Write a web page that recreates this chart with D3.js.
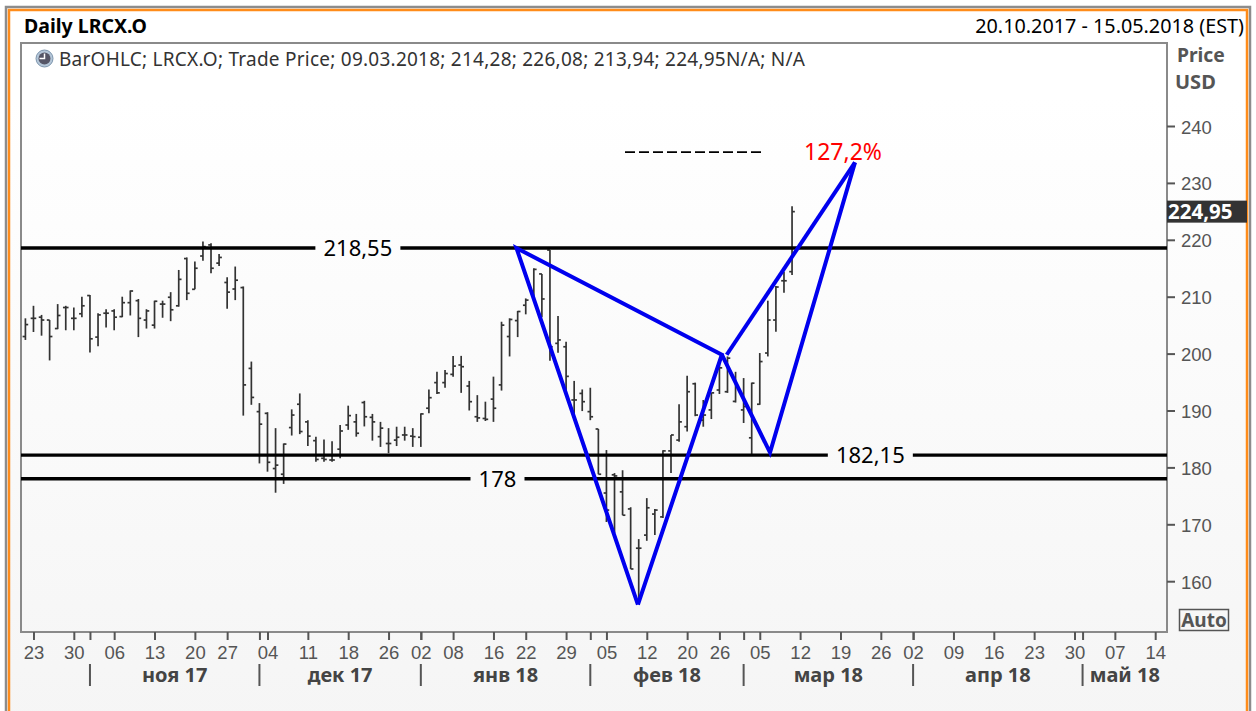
<!DOCTYPE html>
<html>
<head>
<meta charset="utf-8">
<style>
html,body{margin:0;padding:0;background:#fff;overflow:hidden}
svg{display:block;font-family:"Noto Sans",Tahoma,sans-serif}
.tick text{fill:#555;font-size:18.5px}
.tick line{stroke:#555;stroke-width:2}
.domain{display:none}
.bar{stroke:#333;stroke-width:1.7;fill:none}
.level{stroke:#000;stroke-width:3.4}
.pattern{stroke:#0000ee;stroke-width:4;fill:none;stroke-linejoin:miter}
</style>
</head>
<body>
<svg id="chart" width="1256" height="711"></svg>
<script src="https://cdn.jsdelivr.net/npm/d3@7"></script>
<script>
// trading days, bars run from 20.10.2017 to 09.03.2018
var holidays=["2017-11-23","2017-12-25","2018-01-01","2018-01-15","2018-02-19","2018-03-30"];

var opens=[203,206.2,206.4,205.9,204.4,208.1,206.2,207,210.2,202.9,207.1,207.5,206.5,208.95,209.3,205.9,205,208.7,209.9,208.4,
216.7,211.3,217.15,219.1,215.9,212.5,211.35,211.6,197.4,189.8,189.5,179.8,178.8,187,191.1,188,184.7,181.6,181.3,183.2,
187.45,188,191.4,188.8,185.4,184.2,184.8,185.7,185.5,185.3,190.4,194.9,194.9,196.35,198,194.3,188.9,188.6,192,194.5,
203,205.8,208.5,210.6,214,218.2,201.8,201.2,191.85,193,189.8,186.75,175.5,178.7,175.7,172.7,165.8,168.1,171.8,171.3,
182.9,184.8,187.15,194.7,188.3,190.1,193.6,193.3,191.6,190.1,185.2,191.1,200.1,205.9,212.8,214.4];
var highs=[206.2,208.4,206.8,205.9,208.7,208.4,208.1,210,210.3,207.1,207.8,207.8,210,211.1,209.6,207.8,209.3,209.3,210.8,214.7,
216.9,216.2,219.7,219.4,217.5,213.4,215.3,211.8,198.6,191.3,189.7,186.9,184.2,190.2,193,188.3,185.4,184.9,184.6,187.45,
190.85,189.4,191.7,189.4,188,186.9,187.15,187.15,186.9,189.5,193.7,196.8,197.1,199.6,199.6,195.2,192.7,191.55,195.95,205.6,
206.2,207.5,209.7,215,214,218.2,206.6,202.1,195.2,193.7,194,186.75,183.05,179,179.5,173,167.4,174.6,172.7,183,
185.7,191.1,196.1,194.9,191.85,193.1,198.35,199.5,196.8,195.7,194.9,200.1,209.3,211.9,214.4,225.9];
var lows=[202.4,203.8,203.15,198.8,204.3,204.1,204.1,206.4,200.2,201.3,204.6,204.1,206.4,206.7,202.9,204.4,204.4,206.3,205.7,208.25,
209.4,211.3,216.3,214.1,215.4,207.9,209.4,189.1,191,180.7,179.25,175.55,177.1,185.6,185.85,183.75,181,181,181,181.6,
186.6,185.4,187.2,184.7,183.6,182.5,183.75,184.7,183.6,183.6,189.5,192.9,194,195.95,193.1,190,188,188.15,188,193.5,
199.5,202.9,206.9,209.4,206.4,198.75,200.15,193.1,188.3,189.9,188.3,178.8,170.4,168.5,171.6,162.15,156.2,167.1,168.1,171.1,
179,184.5,186.3,189,187.15,188.5,192.9,193.1,191.4,187.8,182.35,191,199.5,203.85,210.7,213.8];
var closes=[205.1,206.2,205.9,203,206.7,208.1,206.2,208.4,202.6,206.8,207.1,206.4,208.95,211,206.2,207.5,209.2,208.7,207.7,213.05,
210.6,215,218.8,215,216.9,210.8,212.9,194.5,192.3,187.6,180.9,180.4,184.1,189.2,186.3,185.5,181.4,181.4,181.3,186.4,
189.1,186,188.9,188,186.9,184.2,185.3,185.7,185.4,189.4,192.25,193.1,196.5,197.8,197.7,191.55,188.7,188.45,190.4,205,
206,207.4,209.4,214.8,209.6,201.2,202.4,196,191.85,191.55,188.9,178.8,172.5,178.5,171.6,162.15,165.8,172.9,172.5,182.9,
185.7,188,193.3,189.2,189.2,193.1,197.5,199.2,194.2,190.7,194.8,198.6,205.9,211.7,212.8,224.95];

var priceTicks=[160,170,180,190,200,210,220,230,240];
var weekTicks=["2017-10-23","2017-10-30","2017-11-06","2017-11-13","2017-11-20","2017-11-27","2017-12-04","2017-12-11","2017-12-18","2017-12-26",
"2018-01-02","2018-01-08","2018-01-16","2018-01-22","2018-01-29","2018-02-05","2018-02-12","2018-02-20","2018-02-26","2018-03-05",
"2018-03-12","2018-03-19","2018-03-26","2018-04-02","2018-04-09","2018-04-16","2018-04-23","2018-04-30","2018-05-07","2018-05-14"];
var monthStarts=["2017-11-01","2017-12-01","2018-01-02","2018-02-01","2018-03-01","2018-04-02","2018-05-01"];
var monthLabels=["ноя 17","дек 17","янв 18","фев 18","мар 18","апр 18","май 18"];

// horizontal levels, label sits in a gap of the line
var levels=[218.55,182.15,178];
var levelLabels=["218,55","182,15","178"];
var levelLabelDay=[41.2,104.7,58.5];

// XABCD pattern, in trading day index and price
var patternDay=[60.85,75.9,86.3,92.27,102.8];
var patternPrice=[218.55,155.9,199.8,182.6,233.6];
var fibDay=[74.3,91.6];
var fibPrice=235.4;

var lastPrice=224.95;

var fmt=d3.timeFormat("%Y-%m-%d"), dayFmt=d3.timeFormat("%d"), parse=d3.timeParse("%Y-%m-%d");
var days=d3.timeDay.range(new Date(2017,9,20),new Date(2018,4,16)).filter(function(d){
  return d.getDay()!=0 && d.getDay()!=6 && holidays.indexOf(fmt(d))==-1;
}).map(fmt);

var svg=d3.select("#chart"),
 plotLeft=21, plotRight=1167, plotTop=43, plotBottom=632;

var x=d3.scaleLinear().domain([0,140]).range([25.4,1155.2]),
 y=d3.scaleLinear().domain([160,240]).range([581.2,126]);

var defs=svg.append("defs");
var grad=defs.append("linearGradient").attr("id","bg").attr("x1",0).attr("y1",0).attr("x2",0).attr("y2",1);
grad.append("stop").attr("offset",0.12).attr("stop-color","#fff");
grad.append("stop").attr("offset",1).attr("stop-color","#f5f5f5");

//frame
svg.append("rect").attr("x",6).attr("y",7).attr("width",1244).attr("height",720).attr("fill","#fff")
  .attr("stroke","#8c8c8c").attr("stroke-width",2.5);
svg.append("rect").attr("x",9).attr("y",10).attr("width",1238).attr("height",720).attr("fill","url(#bg)")
  .attr("stroke","#ff8c1a").attr("stroke-width",2.5);

//header
svg.append("text").attr("x",24).attr("y",33).attr("font-size",19.5).attr("font-weight","bold").attr("fill","#000").text("Daily LRCX.O");
svg.append("text").attr("x",1244).attr("y",33).attr("font-size",19.8).attr("text-anchor","end").attr("fill","#000").text("20.10.2017 - 15.05.2018 (EST)");

//plot border
svg.append("rect").attr("x",plotLeft).attr("y",plotTop).attr("width",plotRight-plotLeft).attr("height",plotBottom-plotTop)
  .attr("fill","none").attr("stroke","#8a8a8a").attr("stroke-width",2);

//legend
var clock=svg.append("g").attr("transform","translate(44.5,58.5)");
clock.append("circle").attr("r",8.5).attr("fill","#b4c6d8").attr("stroke","#7d95ad").attr("stroke-width",1);
clock.append("circle").attr("r",6).attr("fill","#556");
clock.append("path").attr("d","M0,-5V0H-5").attr("fill","none").attr("stroke","#fff").attr("stroke-width",1.5);
svg.append("text").attr("x",59).attr("y",66).attr("font-size",19).attr("fill","#333")
  .attr("textLength",746).attr("lengthAdjust","spacing")
  .text("BarOHLC; LRCX.O; Trade Price; 09.03.2018; 214,28; 226,08; 213,94; 224,95N/A; N/A");

//price axis
var yAxis=svg.append("g").attr("transform","translate("+plotRight+",0)")
  .call(d3.axisRight(y).tickValues(priceTicks).tickSize(8).tickPadding(6).tickFormat(d3.format("d")));
yAxis.selectAll("text").attr("dy","0.38em");
svg.append("text").attr("x",1177).attr("y",62).attr("font-size",19.3).attr("font-weight","bold").attr("fill","#555").text("Price");
svg.append("text").attr("x",1175).attr("y",89).attr("font-size",20).attr("font-weight","bold").attr("fill","#555").text("USD");

//time axis
function dayIndex(s){ return days.indexOf(s); }
svg.append("g").attr("transform","translate(0,"+plotBottom+")")
  .call(d3.axisBottom(x).tickValues(weekTicks.map(dayIndex)).tickSize(8).tickPadding(6)
    .tickFormat(function(i){ return dayFmt(parse(days[i])); }));
svg.append("g").attr("transform","translate(0,"+plotBottom+")")
  .call(d3.axisBottom(x).tickValues(monthStarts.map(dayIndex)).tickSize(8).tickFormat(""));

var monthX=monthStarts.map(function(s){ return x(dayIndex(s)); });
svg.append("g").selectAll("line").data(monthX).enter().append("line")
  .attr("x1",function(d){return d;}).attr("x2",function(d){return d;})
  .attr("y1",664).attr("y2",686).attr("stroke","#555").attr("stroke-width",2);
svg.append("g").selectAll("text").data(monthLabels).enter().append("text")
  .attr("x",function(d,i){ return ((monthX[i])+(i<6?monthX[i+1]:plotRight))/2; })
  .attr("y",682).attr("text-anchor","middle").attr("font-size",20).attr("font-weight","bold").attr("fill","#444")
  .text(function(d){return d;});

//bars
var bars=svg.append("g").selectAll("g").data(highs).enter().append("g").attr("class","bar");
bars.append("line").attr("x1",function(d,i){return x(i);}).attr("x2",function(d,i){return x(i);})
  .attr("y1",function(d){return y(d);}).attr("y2",function(d,i){return y(lows[i]);});
bars.append("line").attr("x1",function(d,i){return x(i)-2.8;}).attr("x2",function(d,i){return x(i);})
  .attr("y1",function(d,i){return y(opens[i]);}).attr("y2",function(d,i){return y(opens[i]);});
bars.append("line").attr("x1",function(d,i){return x(i);}).attr("x2",function(d,i){return x(i)+2.8;})
  .attr("y1",function(d,i){return y(closes[i]);}).attr("y2",function(d,i){return y(closes[i]);});

//levels, with a gap for the label
var gapWidth=[85,85,54];
levels.forEach(function(v,k){
  var cx=x(levelLabelDay[k]);
  svg.append("line").attr("class","level").attr("x1",plotLeft).attr("x2",cx-gapWidth[k]/2).attr("y1",y(v)).attr("y2",y(v));
  svg.append("line").attr("class","level").attr("x1",cx+gapWidth[k]/2).attr("x2",plotRight).attr("y1",y(v)).attr("y2",y(v));
  svg.append("text").attr("x",cx).attr("y",y(v)+8).attr("text-anchor","middle").attr("font-size",22).attr("fill","#000").text(levelLabels[k]);
});

//pattern
var line=d3.line().x(function(d){return x(d[0]);}).y(function(d){return y(d[1]);});
var pts=patternDay.map(function(d,i){return [d,patternPrice[i]];});
svg.append("path").attr("class","pattern").attr("d",line([pts[1],pts[0],pts[2],pts[1]]));
svg.append("path").attr("class","pattern").attr("d",line([pts[2],pts[3],pts[4]]));
svg.append("path").attr("class","pattern").attr("d",line([[pts[2][0]+0.6,pts[2][1]],pts[4]]));

svg.append("line").attr("x1",x(fibDay[0])).attr("x2",x(fibDay[1])).attr("y1",y(fibPrice)).attr("y2",y(fibPrice))
  .attr("stroke","#000").attr("stroke-width",1.6).attr("stroke-dasharray","10,4");
svg.append("text").attr("x",804).attr("y",160).attr("font-size",23).attr("fill","#f00").text("127,2%");

//last price box
svg.append("rect").attr("x",plotRight).attr("y",y(lastPrice)-11).attr("width",80).attr("height",22).attr("fill","#333");
svg.append("text").attr("x",1168).attr("y",y(lastPrice)+7).attr("font-size",20.5).attr("font-weight","bold").attr("fill","#fff").text("224,95");

//auto button
svg.append("rect").attr("x",1179.5).attr("y",609.5).attr("width",49).attr("height",21).attr("fill","none").attr("stroke","#555").attr("stroke-width",1.5);
svg.append("text").attr("x",1204).attr("y",627).attr("text-anchor","middle").attr("font-size",19).attr("font-weight","bold").attr("fill","#555").text("Auto");
</script>
</body>
</html>
